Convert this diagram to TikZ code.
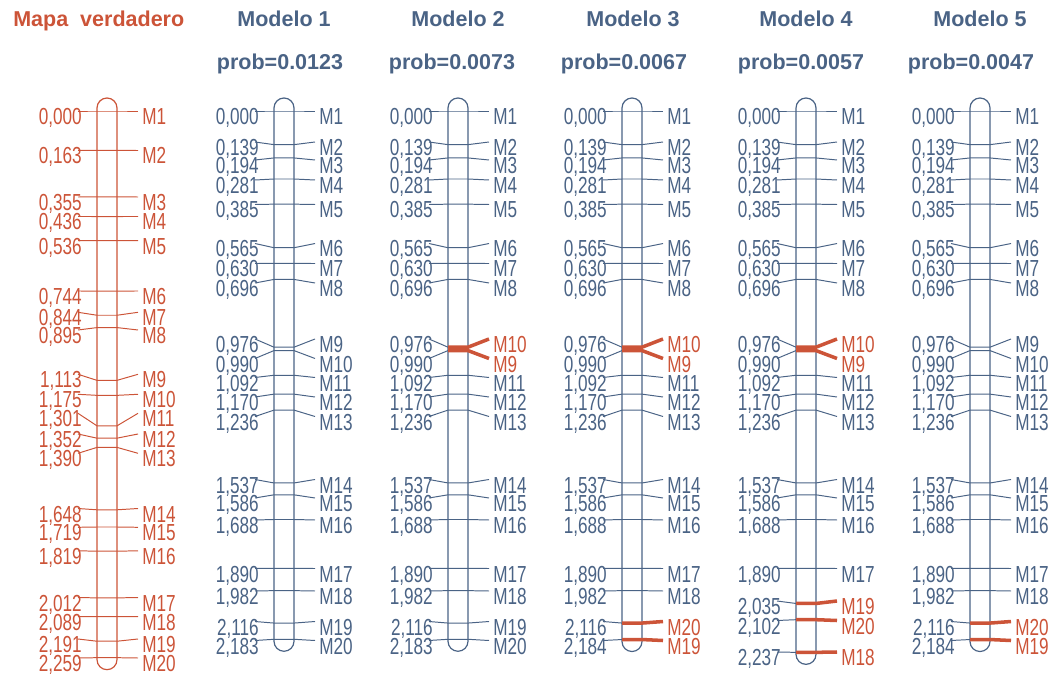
\documentclass[tikz,border=0pt]{standalone}
\usepackage{fontspec}
\setmainfont{Liberation Sans}
\newfontfamily\narrowfont[FakeStretch=0.74]{Liberation Sans}
\definecolor{MAPRED}{RGB}{204,84,56}
\definecolor{MAPBLUE}{RGB}{74,99,133}

%% distances printed as 0,000
\pgfkeys{/pgf/number format/.cd, fixed, fixed zerofill, precision=3,
  use comma, assume math mode=true}

%% one linkage group: #1 id, #2 bar centre, #3 colour, #4 last position,
%% #5 list of position/label height/marker/highlight
\newcommand{\linkgroup}[5]{%
  \draw[chrom, #3] ({#2-10},98) rectangle ({#2+10},{111+242*#4+12});
  \foreach \p/\ly/\n/\h [count=\i] in {#5} {
    \coordinate (#1-\i-l) at ({#2-29},\ly);
    \coordinate (#1-\i-a) at ({#2-10},{111+242*\p});
    \coordinate (#1-\i-b) at ({#2+10},{111+242*\p});
    \coordinate (#1-\i-r) at ({#2+31},\ly);
    \node[dist, text=#3] (#1-\i-d) at ({#2-25},{\ly+13.5}) {\pgfmathprintnumber{\p}};
    \ifnum\h=1
      \draw[tick, #3] (#1-\i-l) -- (#1-\i-a);
      \draw[hot] (#1-\i-a) -- (#1-\i-b) -- (#1-\i-r);
      \node[mname, text=MAPRED] (#1-\i-n) at ({#2+35},{\ly+13.5}) {\n};
    \else
      \draw[tick, #3] (#1-\i-l) -- (#1-\i-a) -- (#1-\i-b) -- (#1-\i-r);
      \node[mname, text=#3] (#1-\i-n) at ({#2+35},{\ly+13.5}) {\n};
    \fi
  }%
}

\begin{document}
\begin{tikzpicture}[
  x=0.025cm, y=-0.025cm,
  %% distance and marker labels — narrow sans
  dist/.style={anchor=base east, inner sep=0pt,
    font=\narrowfont\fontsize{16.5}{18}\selectfont},
  mname/.style={anchor=base west, inner sep=0pt,
    font=\narrowfont\fontsize{16.5}{18}\selectfont},
  %% column headers
  title/.style={anchor=base, inner sep=0pt,
    font=\bfseries\fontsize{15.3}{18}\selectfont},
  chrom/.style={line width=0.85pt, rounded corners=0.25cm},
  tick/.style={line width=0.7pt},
  hot/.style={draw=MAPRED, line width=2.5pt, line join=round}
]
\useasboundingbox (0,0) rectangle (1052,675);

%% ── Headers ──────────────────────────────────────────────────
\node[title, anchor=base west, text=MAPRED] (hmap) at (13,27) {Mapa\ \ verdadero};
\node[title, text=MAPBLUE] (hm1) at (284,27) {Modelo 1};
\node[title, text=MAPBLUE] (hm2) at (458,27) {Modelo 2};
\node[title, text=MAPBLUE] (hm3) at (633,27) {Modelo 3};
\node[title, text=MAPBLUE] (hm4) at (806,27) {Modelo 4};
\node[title, text=MAPBLUE] (hm5) at (980,27) {Modelo 5};

\node[title, text=MAPBLUE] (pm1) at (280,70) {prob=0.0123};
\node[title, text=MAPBLUE] (pm2) at (452,70) {prob=0.0073};
\node[title, text=MAPBLUE] (pm3) at (624,70) {prob=0.0067};
\node[title, text=MAPBLUE] (pm4) at (801,70) {prob=0.0057};
\node[title, text=MAPBLUE] (pm5) at (971,70) {prob=0.0047};

%% ── True map ─────────────────────────────────────────────────
\linkgroup{tm}{107}{MAPRED}{2.259}{
  0.000/111/M1/0, 0.163/150.5/M2/0, 0.355/197/M3/0, 0.436/216.5/M4/0,
  0.536/240.7/M5/0, 0.744/291/M6/0, 0.844/312.3/M7/0, 0.895/330/M8/0,
  1.113/374.3/M9/0, 1.175/394.3/M10/0, 1.301/413.3/M11/0, 1.352/434/M12/0,
  1.390/453.3/M13/0, 1.648/508.5/M14/0, 1.719/527.3/M15/0, 1.819/550.8/M16/0,
  2.012/597.5/M17/0, 2.089/616.7/M18/0, 2.191/639/M19/0, 2.259/658/M20/0}

%% ── Modelo 1 ─────────────────────────────────────────────────
\linkgroup{ma}{284}{MAPBLUE}{2.183}{
  0.000/111/M1/0, 0.139/142/M2/0, 0.194/160/M3/0, 0.281/180/M4/0,
  0.385/204.5/M5/0, 0.565/243.5/M6/0, 0.630/263.5/M7/0, 0.696/283/M8/0,
  0.976/339/M9/0, 0.990/358.5/M10/0, 1.092/377.5/M11/0, 1.170/397/M12/0,
  1.236/416.5/M13/0, 1.537/479.5/M14/0, 1.586/498/M15/0, 1.688/520/M16/0,
  1.890/568.5/M17/0, 1.982/591/M18/0, 2.116/621.5/M19/0, 2.183/640.5/M20/0}

%% ── Modelo 2 ─────────────────────────────────────────────────
\linkgroup{mb}{458}{MAPBLUE}{2.183}{
  0.000/111/M1/0, 0.139/142/M2/0, 0.194/160/M3/0, 0.281/180/M4/0,
  0.385/204.5/M5/0, 0.565/243.5/M6/0, 0.630/263.5/M7/0, 0.696/283/M8/0,
  0.976/339/M10/1, 0.990/358.5/M9/1, 1.092/377.5/M11/0, 1.170/397/M12/0,
  1.236/416.5/M13/0, 1.537/479.5/M14/0, 1.586/498/M15/0, 1.688/520/M16/0,
  1.890/568.5/M17/0, 1.982/591/M18/0, 2.116/621.5/M19/0, 2.183/640.5/M20/0}

%% ── Modelo 3 ─────────────────────────────────────────────────
\linkgroup{mc}{632}{MAPBLUE}{2.184}{
  0.000/111/M1/0, 0.139/142/M2/0, 0.194/160/M3/0, 0.281/180/M4/0,
  0.385/204.5/M5/0, 0.565/243.5/M6/0, 0.630/263.5/M7/0, 0.696/283/M8/0,
  0.976/339/M10/1, 0.990/358.5/M9/1, 1.092/377.5/M11/0, 1.170/397/M12/0,
  1.236/416.5/M13/0, 1.537/479.5/M14/0, 1.586/498/M15/0, 1.688/520/M16/0,
  1.890/568.5/M17/0, 1.982/591/M18/0, 2.116/621.5/M20/1, 2.184/640.5/M19/1}

%% ── Modelo 4 ─────────────────────────────────────────────────
\linkgroup{md}{806}{MAPBLUE}{2.237}{
  0.000/111/M1/0, 0.139/142/M2/0, 0.194/160/M3/0, 0.281/180/M4/0,
  0.385/204.5/M5/0, 0.565/243.5/M6/0, 0.630/263.5/M7/0, 0.696/283/M8/0,
  0.976/339/M10/1, 0.990/358.5/M9/1, 1.092/377.5/M11/0, 1.170/397/M12/0,
  1.236/416.5/M13/0, 1.537/479.5/M14/0, 1.586/498/M15/0, 1.688/520/M16/0,
  1.890/568.5/M17/0, 2.035/601/M19/1, 2.102/620.5/M20/1, 2.237/652/M18/1}

%% ── Modelo 5 ─────────────────────────────────────────────────
\linkgroup{me}{980}{MAPBLUE}{2.184}{
  0.000/111/M1/0, 0.139/142/M2/0, 0.194/160/M3/0, 0.281/180/M4/0,
  0.385/204.5/M5/0, 0.565/243.5/M6/0, 0.630/263.5/M7/0, 0.696/283/M8/0,
  0.976/339/M9/0, 0.990/358.5/M10/0, 1.092/377.5/M11/0, 1.170/397/M12/0,
  1.236/416.5/M13/0, 1.537/479.5/M14/0, 1.586/498/M15/0, 1.688/520/M16/0,
  1.890/568.5/M17/0, 1.982/591/M18/0, 2.116/621.5/M20/1, 2.184/640.5/M19/1}

\end{tikzpicture}
\end{document}
